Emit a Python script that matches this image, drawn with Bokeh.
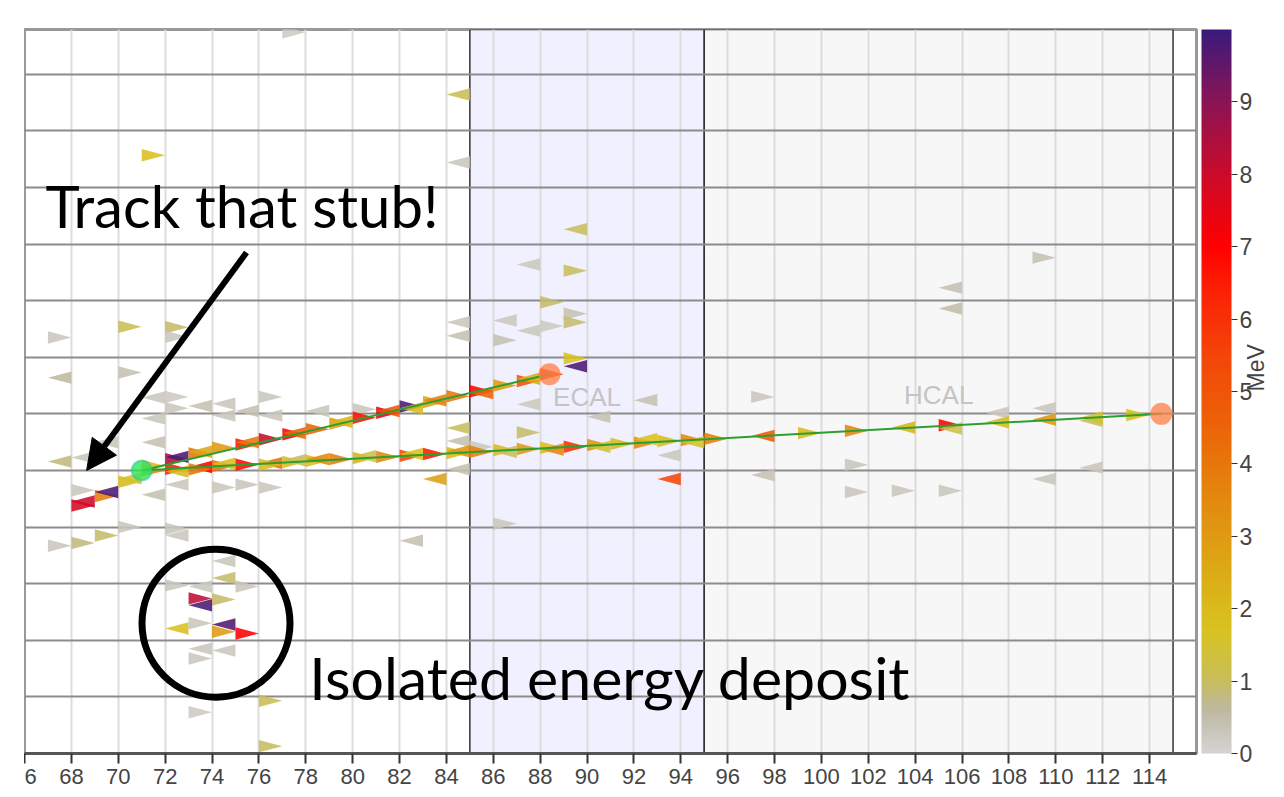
import numpy as np
from bokeh.plotting import figure
from bokeh.models import (ColumnDataSource, LinearColorMapper, ColorBar, FixedTicker, Grid,
                          Label, Arrow, NormalHead, Spacer, Range1d, LinearAxis)
from bokeh.layouts import row
from bokeh.transform import transform
from bokeh.embed import file_html
from bokeh.resources import INLINE
from bokeh.core.properties import value

# ---- axes ----
x_ticks = list(range(66, 116, 2))
x_tick_text = {66: "6"}
layer_lines = list(range(0, 13))
mev_ticks = list(range(0, 10))

# ---- calorimeter regions ----
region_names = ["ECAL", "HCAL"]
region_start = [85, 95]
region_end = [95, 115]
region_fill = ["#f0f0ff", "#f7f7f7"]
region_label_x = [90, 105]
region_label_y = [6.3, 6.33]

# ---- hits: layer (left edge), position, energy [MeV], pointing side ----
bg_layer = [77, 84, 71, 84, 89, 87, 89, 109, 105, 105, 70, 72, 72, 67, 67, 70,
            84, 84, 86, 86, 87, 88, 88, 89, 89, 89, 89, 71, 72, 71, 72, 73,
            74, 74, 75, 76, 76, 78, 80, 67, 68, 69, 71, 72, 71, 75, 68, 67,
            68, 69, 70, 72, 72, 76, 74, 82, 86, 83, 84, 84, 85, 84, 87, 87,
            90, 92, 93, 93, 97, 97, 101, 101, 103, 105, 109, 111, 107, 109, 111]
bg_pos = [12.74, 11.64, 10.57, 10.44, 9.26, 8.64, 8.53, 8.76, 8.23, 7.86, 7.54, 7.53,
          7.36, 7.35, 6.64, 6.73, 7.62, 7.38, 7.65, 7.30, 7.47, 7.97, 7.55, 7.77,
          7.62, 6.98, 6.84, 6.29, 6.30, 5.92, 6.10, 6.14, 6.18, 5.97, 6.05, 6.30,
          5.97, 6.05, 6.08, 5.16, 5.23, 5.50, 5.50, 4.75, 4.57, 4.75, 4.65, 3.67,
          3.72, 3.85, 4.00, 3.85, 3.97, 4.70, 4.70, 3.76, 4.06, 4.85, 5.75, 5.52,
          5.42, 5.02, 6.17, 5.67, 5.95, 6.24, 5.27, 4.85, 6.30, 4.92, 5.10, 4.62,
          4.64, 4.64, 4.85, 5.05, 6.02, 6.10, 5.88]
bg_mev = [0.2, 1.1, 1.8, 0.3, 1.0, 0.3, 1.0, 0.4, 0.4, 0.5, 1.1, 0.9,
          0.3, 0.3, 0.6, 0.4, 0.3, 0.4, 0.3, 0.4, 0.3, 0.9, 0.2, 0.4,
          0.9, 1.8, 9.8, 0.3, 0.2, 0.3, 0.3, 0.4, 0.3, 0.3, 0.4, 0.3,
          0.3, 0.3, 0.3, 0.8, 0.3, 0.3, 0.4, 0.3, 0.4, 0.3, 0.3, 0.3,
          0.8, 0.9, 0.3, 0.3, 0.3, 0.3, 0.3, 0.4, 0.3, 2.8, 1.0, 0.4,
          0.3, 0.4, 0.3, 0.9, 0.4, 0.4, 0.3, 5.5, 0.3, 0.4, 0.3, 0.3,
          0.3, 0.3, 0.3, 0.3, 0.3, 0.3, 1.0]
bg_side = ["R", "L", "R", "L", "L", "L", "R", "R", "L", "L", "R", "R",
           "R", "R", "L", "R", "L", "L", "L", "R", "L", "R", "R", "R",
           "R", "R", "L", "L", "R", "L", "R", "L", "L", "L", "L", "R",
           "L", "L", "R", "L", "L", "L", "L", "L", "L", "R", "R", "R",
           "R", "R", "R", "L", "R", "R", "R", "L", "R", "L", "L", "L",
           "R", "L", "L", "R", "L", "L", "L", "L", "R", "L", "R", "R",
           "R", "R", "L", "L", "L", "L", "L"]

iso_layer = [72, 73, 74, 74, 75, 73, 73, 74, 72, 73, 74, 74, 75, 73, 73, 74, 76, 73, 76]
iso_pos = [2.97, 2.95, 3.10, 3.40, 2.95, 2.74, 2.62, 2.72, 2.21, 2.30, 2.28, 2.15,
           2.12, 1.85, 1.68, 1.82, 0.93, 0.73, 0.13]
iso_mev = [0.3, 0.3, 0.9, 0.3, 0.3, 8.2, 9.8, 0.9, 1.8, 0.3, 9.7, 3.0, 7.0, 0.3,
           0.3, 0.3, 1.1, 0.2, 1.0]
iso_side = ["R", "L", "L", "L", "R", "R", "L", "R", "L", "R", "L", "R", "R", "L",
            "R", "L", "R", "R", "R"]

stub_layer = [68, 68, 69, 69, 70, 70]
stub_pos = [4.38, 4.45, 4.55, 4.62, 4.80, 4.86]
stub_mev = [7.8, 8.0, 3.8, 9.8, 2.0, 1.6]
stub_side = ["R", "L", "R", "L", "R", "L"]

trk1_layer = [71, 72, 72, 73, 73, 74, 74, 75, 76, 76, 77, 77, 78, 78, 79, 80, 80,
              81, 82, 82, 83, 84, 84, 85, 86, 86, 87, 88, 88, 89, 90, 90, 91, 92,
              92, 93, 94, 94, 95, 97, 99, 101, 103, 105, 105, 107, 109, 111, 113]
trk1_pos = [5.00, 5.03, 4.98, 5.06, 5.02, 5.08, 5.12, 5.10, 5.13, 5.10, 5.15, 5.18,
            5.17, 5.20, 5.20, 5.22, 5.25, 5.24, 5.26, 5.29, 5.29, 5.31, 5.34, 5.33,
            5.36, 5.33, 5.38, 5.40, 5.37, 5.42, 5.45, 5.42, 5.47, 5.49, 5.55, 5.52,
            5.54, 5.50, 5.56, 5.61, 5.66, 5.70, 5.76, 5.80, 5.74, 5.85, 5.90, 5.93, 5.98]
trk1_mev = [3.5, 6.5, 2.0, 7.0, 4.0, 4.0, 1.9, 6.8, 4.2, 2.0, 1.9, 1.0, 2.0, 3.5,
            3.8, 2.2, 1.2, 3.5, 5.5, 1.8, 6.5, 2.0, 3.2, 3.8, 2.0, 1.0, 3.0, 1.9,
            3.6, 6.0, 3.2, 1.5, 2.0, 3.5, 1.8, 2.0, 3.5, 1.6, 3.8, 4.8, 2.0, 3.6,
            2.2, 7.0, 1.2, 2.0, 3.2, 1.6, 1.8]
trk1_side = ["R", "R", "L", "L", "R", "R", "L", "R", "L", "R", "R", "L", "R", "L",
             "R", "R", "L", "R", "R", "L", "R", "R", "L", "R", "R", "L", "R", "R",
             "L", "R", "R", "L", "R", "R", "L", "R", "R", "L", "R", "L", "R", "R",
             "L", "R", "L", "L", "L", "L", "R"]

trk2_layer = [71, 72, 72, 73, 73, 74, 75, 75, 76, 77, 77, 78, 79, 79, 80, 81, 81,
              82, 82, 83, 83, 84, 85, 85, 86, 87, 87, 88]
trk2_pos = [5.08, 5.20, 5.24, 5.30, 5.33, 5.40, 5.46, 5.50, 5.55, 5.64, 5.66, 5.73,
            5.83, 5.86, 5.93, 6.02, 6.05, 6.13, 6.10, 6.21, 6.24, 6.31, 6.40, 6.37,
            6.50, 6.58, 6.62, 6.70]
trk2_mev = [2.0, 8.4, 9.8, 4.0, 2.6, 3.0, 6.6, 4.0, 8.1, 7.0, 4.5, 4.6, 3.0, 2.2,
            6.8, 7.6, 5.0, 9.8, 2.0, 2.6, 3.8, 4.0, 6.9, 4.5, 3.0, 5.2, 2.4, 5.8]
trk2_side = ["R", "R", "L", "R", "L", "R", "R", "L", "R", "R", "L", "R", "R", "L",
             "R", "R", "L", "R", "L", "R", "L", "R", "R", "L", "R", "R", "L", "R"]

# ---- reconstructed tracks ----
vertex_x = [71.0]
vertex_y = [5.0]
track_end_x = [114.5, 88.4]
track_end_y = [6.0, 6.7]

# ---- energy palette (MeV) ----
anchor_mev = [0.0, 0.6, 1.0, 1.7, 2.5, 3.5, 4.5, 5.5, 6.5, 7.0, 8.0, 9.0, 10.0]
anchor_hex = ["#d3d3d3", "#bdb8a0", "#c8bd5a", "#d8c320", "#dcaa15", "#e3890f",
              "#ec6408", "#f44508", "#fc1c04", "#ff0000", "#cc0a2a", "#8c1454", "#3a1a7c"]


def hex_rgb(h):
    return [int(h[i:i + 2], 16) for i in (1, 3, 5)]


rgb = np.array([hex_rgb(h) for h in anchor_hex], dtype=float)
levels = np.linspace(0, 10, 256)
palette = ["#%02x%02x%02x" % tuple(int(round(np.interp(v, anchor_mev, rgb[:, c]))) for c in range(3))
           for v in levels]
mapper = LinearColorMapper(palette=palette, low=0, high=10)

# ---- triangle outlines for every hit ----
layers = bg_layer + iso_layer + stub_layer + trk1_layer + trk2_layer
positions = bg_pos + iso_pos + stub_pos + trk1_pos + trk2_pos
energies = bg_mev + iso_mev + stub_mev + trk1_mev + trk2_mev
sides = bg_side + iso_side + stub_side + trk1_side + trk2_side

half_h = 0.11
tri_xs, tri_ys = [], []
for lay, pos, side in zip(layers, positions, sides):
    if side == "R":
        tri_xs.append([lay, lay, lay + 1])
    else:
        tri_xs.append([lay + 1, lay + 1, lay])
    tri_ys.append([pos + half_h, pos - half_h, pos])

hits = ColumnDataSource(dict(xs=tri_xs, ys=tri_ys, mev=energies))

y_top = 12.79
p = figure(frame_width=1172, frame_height=724,
           x_range=Range1d(66, 116), y_range=Range1d(0, y_top),
           y_axis_location=None, toolbar_location=None, output_backend="svg",
           min_border_left=0, min_border_right=88, min_border_top=29, min_border_bottom=44)
p.background_fill_color = "white"
p.border_fill_color = "white"
p.outline_line_color = "#999999"
p.outline_line_width = 3

# regions drawn beneath the grid
p.quad(left=region_start, right=region_end, bottom=0, top=y_top,
       fill_color=region_fill, line_color="#333333", line_width=1.5, level="image")

# grid
p.xgrid.grid_line_color = "#dcdcdc"
p.xgrid.grid_line_width = 2
p.xgrid.ticker = FixedTicker(ticks=x_ticks)
p.add_layout(Grid(dimension=1, ticker=FixedTicker(ticks=layer_lines),
                  grid_line_color="#8c8c8c", grid_line_width=2))

# x axis
ax = p.xaxis[0]
ax.ticker = FixedTicker(ticks=x_ticks)
ax.major_label_overrides = x_tick_text
ax.axis_line_color = "#555555"
ax.axis_line_width = 3
ax.major_tick_line_color = "#333333"
ax.major_tick_line_width = 2
ax.major_tick_in = 0
ax.major_tick_out = 10
ax.minor_tick_line_color = None
ax.major_label_standoff = 5
ax.major_label_text_font = "Liberation Sans"
ax.major_label_text_font_size = "22px"
ax.major_label_text_color = "#444444"

# region names
p.text(x=region_label_x, y=region_label_y, text=region_names, text_color="#c4c4c4",
       text_font=value("Liberation Sans"), text_font_size="26px",
       text_align="center", text_baseline="middle")

# hits
p.patches("xs", "ys", source=hits, fill_color=transform("mev", mapper),
          fill_alpha=0.88, line_color=None)

# tracks
p.segment(x0=vertex_x * 2, y0=vertex_y * 2, x1=track_end_x, y1=track_end_y,
          line_color="#2ca02c", line_width=2)
p.scatter(x=track_end_x, y=track_end_y, size=22, fill_color="#ff7f45",
          fill_alpha=0.75, line_color=None)
p.scatter(x=vertex_x, y=vertex_y, size=20, fill_color="#2ee65a",
          fill_alpha=0.8, line_color="#2cc0a0", line_alpha=0.5, line_width=2)

# colour bar
cb = ColorBar(color_mapper=mapper, ticker=FixedTicker(ticks=mev_ticks),
              width=30, height=724, padding=0, margin=0, location=(5, 0),
              major_tick_in=0, major_tick_out=6, major_tick_line_color="#333333",
              minor_tick_line_color=None, label_standoff=2,
              major_label_text_font="Liberation Sans", major_label_text_font_size="23px",
              major_label_text_color="#444444",
              bar_line_color=None, border_line_color=None, background_fill_alpha=0)
p.add_layout(cb, "right")

# unit caption beside the colour bar
mev_axis = LinearAxis(ticker=FixedTicker(ticks=[]), axis_label="MeV",
                      axis_line_color=None, major_tick_line_color=None,
                      minor_tick_line_color=None, major_label_text_font_size="0px",
                      axis_label_text_font="Liberation Sans", axis_label_text_font_size="23px",
                      axis_label_text_font_style="normal", axis_label_text_color="#444444",
                      axis_label_standoff=0)
if "axis_label_orientation" in LinearAxis.properties():
    mev_axis.axis_label_orientation = np.pi / 2
p.add_layout(mev_axis, "right")

# annotations
p.add_layout(Label(x=66.9, y=9.68, text="Track that stub!", text_font="Lato",
                   text_font_size="58px", text_color="black", text_baseline="alphabetic"))
p.add_layout(Label(x=78.15, y=1.35, text="Isolated energy deposit", text_font="Lato",
                   text_font_size="59px", text_color="black", text_baseline="alphabetic"))
p.add_layout(Arrow(end=NormalHead(size=30, fill_color="black", line_color="black"),
                   x_start=75.47, y_start=8.85, x_end=68.65, y_end=5.0,
                   line_width=6, line_color="black"))
ring_x = [74.17]
ring_y = [2.30]
p.scatter(x=ring_x, y=ring_y, size=148, marker="circle", fill_color=None,
          line_color="black", line_width=7)

layout = row(Spacer(width=24), p)
open("out.html", "w").write(file_html(layout, INLINE))
